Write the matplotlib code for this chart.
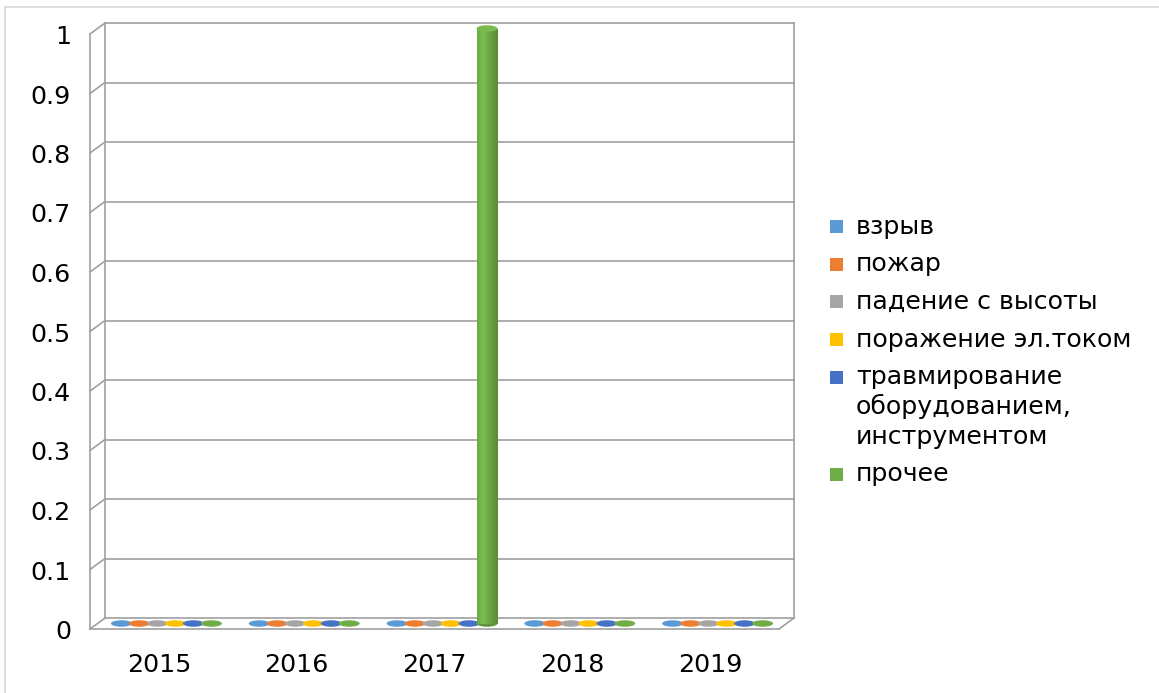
import numpy as np
import matplotlib
matplotlib.use("Agg")
import matplotlib.pyplot as plt
from matplotlib.patches import Ellipse, Rectangle
from matplotlib.lines import Line2D
from matplotlib.colors import to_rgb

# Source data: accidents by cause and year
years = ["2015", "2016", "2017", "2018", "2019"]
causes = [
    "взрыв",
    "пожар",
    "падение с высоты",
    "поражение эл.током",
    "травмирование\nоборудованием,\nинструментом",
    "прочее",
]
vzryv = [0, 0, 0, 0, 0]
pozhar = [0, 0, 0, 0, 0]
padenie = [0, 0, 0, 0, 0]
tok = [0, 0, 0, 0, 0]
travma = [0, 0, 0, 0, 0]
prochee = [0, 0, 1, 0, 0]
y_ticks = [0, 0.1, 0.2, 0.3, 0.4, 0.5, 0.6, 0.7, 0.8, 0.9, 1]

series = [vzryv, pozhar, padenie, tok, travma, prochee]
colors = ["#5B9BD5", "#ED7D31", "#A5A5A5", "#FFC000", "#4472C4", "#70AD47"]

W, H = 1159, 693
FONT = 18.2
GRID = "#a0a0a0"

fig = plt.figure(figsize=(W / 100, H / 100), dpi=100)
fig.patch.set_facecolor("white")

# front plane of the 3D box, in pixels
fx0, fx1, fy_top, fy_bot = 90, 779, 34, 629
ax = fig.add_axes([fx0 / W, (H - fy_bot) / H, (fx1 - fx0) / W, (fy_bot - fy_top) / H])
ax.set_xlim(0, len(years))
ax.set_ylim(0, 1)
ax.axis("off")

# pixel -> data unit conversion
px_x = len(years) / (fx1 - fx0)
px_y = 1.0 / (fy_bot - fy_top)
DX, DY = 15 * px_x, 11 * px_y  # depth offset of the back wall


def line(xs, ys, **kw):
    ax.add_line(Line2D(xs, ys, color=GRID, lw=1.2, clip_on=False, **kw))


# back wall gridlines and left wall
for v in y_ticks:
    line([DX, len(years) + DX], [v + DY, v + DY])
    line([0, DX], [v, v + DY])
line([0, 0], [0, 1])
line([DX, DX], [DY, 1 + DY])
line([len(years) + DX, len(years) + DX], [DY, 1 + DY])
# floor
line([0, len(years)], [0, 0])
line([len(years), len(years) + DX], [0, DY])

# y tick labels
for v in y_ticks:
    ax.text(-19 * px_x, v - 3 * px_y, f"{v:g}", ha="right", va="center",
            fontsize=FONT, clip_on=False)

# category labels
for i, yr in enumerate(years):
    ax.text(i + 0.5, -36 * px_y, yr, ha="center", va="center",
            fontsize=FONT, clip_on=False)

# cylinders at mid depth
step = 18 * px_x
bw = 21 * px_x
eh = 6.5 * px_y
mx, my = DX / 2, DY / 2


def shade(c, t):
    r = np.array(to_rgb(c))
    f = np.interp(t, [0, 0.3, 1], [0.95, 1.1, 0.8])
    return tuple(np.clip(r * f, 0, 1))


for k, (vals, col) in enumerate(zip(series, colors)):
    for i, v in enumerate(vals):
        cx = i + 0.5 + mx + (k - 2.5) * step
        y0 = my
        if v > 0:
            ax.add_patch(Ellipse((cx, y0), bw, eh, facecolor=shade(col, 0.9),
                                 edgecolor="none", clip_on=False, zorder=3))
            n = 30
            for j in range(n):
                t = (j + 0.5) / n
                ax.add_patch(Rectangle((cx - bw / 2 + j * bw / n, y0), bw / n * 1.05, v,
                                       facecolor=shade(col, t), edgecolor="none",
                                       clip_on=False, zorder=3))
            ax.add_patch(Ellipse((cx, y0 + v), bw, eh, facecolor=shade(col, 0.35),
                                 edgecolor="none", clip_on=False, zorder=4))
        else:
            ax.add_patch(Ellipse((cx, y0), bw, eh, facecolor=col,
                                 edgecolor="none", clip_on=False, zorder=3))

# legend
lx_box, lx_text = 830, 856
row_y = 227
for name, col in zip(causes, colors):
    fig.patches.append(Rectangle(((lx_box) / W, 1 - (row_y + 6.5) / H), 13 / W, 13 / H,
                                 transform=fig.transFigure, facecolor=col,
                                 edgecolor="none"))
    lines = name.split("\n")
    for li, txt in enumerate(lines):
        fig.text(lx_text / W, 1 - (row_y + 30 * li + 7) / H, txt,
                 ha="left", va="baseline", fontsize=FONT)
    row_y += 30 * (len(lines) - 1) + 37.5

# chart area border
fig.add_artist(Line2D([5 / W, 1], [1 - 7 / H, 1 - 7 / H], color="#d9d9d9", lw=1.2,
                      transform=fig.transFigure))
fig.add_artist(Line2D([5 / W, 5 / W], [0, 1 - 7 / H], color="#d9d9d9", lw=1.2,
                      transform=fig.transFigure))

fig.savefig("out.png", dpi=100)
